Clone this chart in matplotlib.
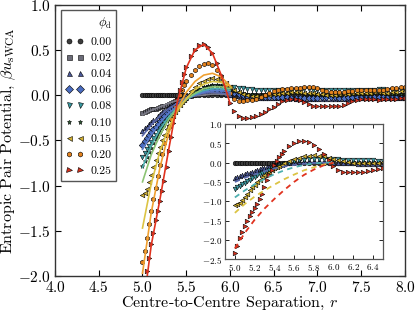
import numpy as np
import matplotlib
matplotlib.use("Agg")
import matplotlib.pyplot as plt
from matplotlib.lines import Line2D

plt.rcParams['font.family'] = 'serif'
plt.rcParams['font.serif'] = ['cmr10']
plt.rcParams['mathtext.fontset'] = 'cm'
plt.rcParams['axes.formatter.use_mathtext'] = True
plt.rcParams['axes.unicode_minus'] = True

# separation grid: fine up to 5.5, coarser after
r = np.concatenate([np.arange(5.0, 5.49, 0.025), np.arange(5.5, 8.001, 0.05)])
r_fit = np.arange(5.0, 6.001, 0.1)

phi_labels = ['0.00', '0.02', '0.04', '0.06', '0.08', '0.10', '0.15', '0.20', '0.25']
markers = ['o', 's', '^', 'D', 'v', '*', '<', 'h', '>']
colors = ['#3c3c3c', '#6c6c78', '#4c5a9c', '#4a6cc0', '#3a9aa2', '#2f5c34', '#d4b232', '#e4821e', '#d8321e']
fit_colors = ['#3c3c3c', '#7c7c88', '#5a68aa', '#5a7ccc', '#4fb0b0', '#8cc474', '#dcc444', '#f0a030', '#e0321e']

u_000 = [0.0] * 71
u_002 = [-0.2, -0.19, -0.18, -0.17, -0.16, -0.155, -0.15, -0.14, -0.13, -0.125,
         -0.12, -0.11, -0.1, -0.09, -0.08, -0.07, -0.06, -0.05, -0.04, -0.035,
         -0.03, -0.01, 0.0, 0.01, 0.01, 0.02, 0.02, 0.02, 0.01, 0.01,
         0.0, 0.0, -0.01, -0.01, -0.01, -0.01, 0.0, 0.0, 0.0, 0.0,
         0.0, 0.0, 0.0, 0.0, 0.01, 0.01, 0.0, 0.0, 0.0, 0.0,
         0.0, -0.01, -0.01, 0.0, 0.0, 0.0, 0.0, 0.0, 0.0, 0.0,
         0.0, 0.0, 0.0, 0.0, 0.0, 0.0, 0.0, 0.0, 0.0, 0.0, 0.0]
u_004 = [-0.4, -0.37, -0.35, -0.32, -0.3, -0.28, -0.26, -0.23, -0.21, -0.19,
         -0.17, -0.15, -0.13, -0.11, -0.1, -0.08, -0.07, -0.05, -0.04, -0.03,
         -0.02, 0.0, 0.01, 0.02, 0.03, 0.03, 0.03, 0.03, 0.02, 0.01,
         0.0, -0.01, -0.01, -0.02, -0.02, -0.03, -0.03, -0.03, -0.03, -0.03,
         -0.03, -0.03, -0.03, -0.03, -0.03, -0.04, -0.04, -0.04, -0.04, -0.04,
         -0.04, -0.04, -0.04, -0.04, -0.04, -0.04, -0.04, -0.04, -0.03, -0.03,
         -0.03, -0.03, -0.03, -0.03, -0.03, -0.03, -0.03, -0.03, -0.03, -0.03, -0.03]
u_006 = [-0.55, -0.51, -0.48, -0.44, -0.41, -0.38, -0.35, -0.32, -0.29, -0.26,
         -0.23, -0.2, -0.18, -0.15, -0.13, -0.11, -0.09, -0.07, -0.05, -0.04,
         -0.02, 0.0, 0.02, 0.04, 0.05, 0.06, 0.06, 0.06, 0.05, 0.04,
         0.03, 0.02, 0.01, 0.0, -0.01, -0.01, -0.02, -0.02, -0.02, -0.02,
         -0.02, -0.02, -0.02, -0.02, -0.03, -0.03, -0.03, -0.03, -0.03, -0.03,
         -0.03, -0.02, -0.02, -0.02, -0.02, -0.03, -0.03, -0.02, -0.02, -0.02,
         -0.02, -0.02, -0.02, -0.02, -0.02, -0.02, -0.02, -0.02, -0.02, -0.02, -0.02]
u_008 = [-0.68, -0.64, -0.6, -0.56, -0.52, -0.48, -0.44, -0.4, -0.37, -0.33,
         -0.3, -0.27, -0.24, -0.21, -0.18, -0.15, -0.13, -0.1, -0.08, -0.06,
         -0.04, 0.0, 0.03, 0.06, 0.08, 0.09, 0.1, 0.1, 0.1, 0.1,
         0.09, 0.09, 0.08, 0.08, 0.07, 0.07, 0.06, 0.06, 0.06, 0.05,
         0.05, 0.05, 0.05, 0.06, 0.06, 0.06, 0.07, 0.07, 0.07, 0.06,
         0.06, 0.06, 0.06, 0.05, 0.05, 0.05, 0.06, 0.06, 0.06, 0.06,
         0.06, 0.06, 0.06, 0.06, 0.07, 0.07, 0.06, 0.06, 0.06, 0.06, 0.06]
u_010 = [-0.78, -0.73, -0.68, -0.63, -0.58, -0.53, -0.49, -0.45, -0.41, -0.37,
         -0.33, -0.29, -0.26, -0.22, -0.19, -0.16, -0.13, -0.1, -0.08, -0.05,
         -0.03, 0.01, 0.04, 0.07, 0.09, 0.1, 0.11, 0.11, 0.1, 0.08,
         0.06, 0.04, 0.03, 0.02, 0.01, 0.01, 0.0, 0.0, 0.0, 0.01,
         0.01, 0.01, 0.02, 0.02, 0.02, 0.02, 0.02, 0.01, 0.01, 0.01,
         0.01, 0.0, 0.0, 0.0, 0.0, 0.0, 0.01, 0.01, 0.01, 0.01,
         0.01, 0.01, 0.01, 0.02, 0.02, 0.02, 0.01, 0.01, 0.01, 0.01, 0.01]
u_015 = [-1.1, -1.08, -1.04, -0.96, -0.88, -0.8, -0.72, -0.64, -0.57, -0.5,
         -0.44, -0.38, -0.33, -0.28, -0.23, -0.19, -0.15, -0.11, -0.08, -0.05,
         -0.02, 0.04, 0.09, 0.13, 0.16, 0.18, 0.19, 0.18, 0.16, 0.13,
         0.09, 0.06, 0.03, 0.01, 0.0, -0.01, -0.01, -0.01, 0.0, 0.0,
         0.01, 0.01, 0.02, 0.02, 0.03, 0.03, 0.03, 0.02, 0.02, 0.02,
         0.01, 0.01, 0.0, 0.0, 0.0, 0.01, 0.01, 0.01, 0.02, 0.02,
         0.02, 0.02, 0.02, 0.03, 0.03, 0.02, 0.02, 0.03, 0.03, 0.04, 0.04]
u_020 = [-1.85, -1.72, -1.58, -1.43, -1.28, -1.15, -1.03, -0.9, -0.77, -0.65,
         -0.53, -0.44, -0.35, -0.27, -0.2, -0.13, -0.06, 0.0, 0.06, 0.11,
         0.15, 0.22, 0.28, 0.32, 0.34, 0.35, 0.33, 0.28, 0.2, 0.11,
         0.02, -0.04, -0.07, -0.07, -0.06, -0.05, -0.04, -0.02, 0.0, 0.02,
         0.04, 0.06, 0.07, 0.07, 0.08, 0.08, 0.08, 0.09, 0.09, 0.09,
         0.08, 0.06, 0.04, 0.03, 0.03, 0.03, 0.03, 0.04, 0.04, 0.05,
         0.05, 0.05, 0.06, 0.06, 0.06, 0.06, 0.07, 0.08, 0.08, 0.09, 0.09]
u_025 = [-2.35, -2.15, -1.95, -1.8, -1.65, -1.52, -1.38, -1.28, -1.17, -1.06,
         -0.95, -0.8, -0.62, -0.46, -0.31, -0.18, -0.06, 0.05, 0.14, 0.23,
         0.31, 0.43, 0.5, 0.55, 0.56, 0.53, 0.46, 0.35, 0.22, 0.06,
         -0.09, -0.18, -0.23, -0.25, -0.25, -0.24, -0.23, -0.21, -0.19, -0.16,
         -0.13, -0.1, -0.07, -0.05, -0.04, -0.04, -0.05, -0.08, -0.1, -0.12,
         -0.12, -0.12, -0.12, -0.12, -0.12, -0.12, -0.11, -0.09, -0.07, -0.05,
         -0.04, -0.04, -0.04, -0.04, -0.05, -0.04, -0.04, -0.04, -0.04, -0.03, -0.03]
series = [u_000, u_002, u_004, u_006, u_008, u_010, u_015, u_020, u_025]

# smooth fits (solid in main panel)
fit_002 = [-0.22, -0.17, -0.13, -0.09, -0.06, -0.03, -0.01, 0.0, 0.01, 0.01, 0.0]
fit_004 = [-0.45, -0.33, -0.23, -0.15, -0.09, -0.04, 0.0, 0.02, 0.03, 0.02, 0.01]
fit_006 = [-0.6, -0.44, -0.31, -0.2, -0.12, -0.05, 0.0, 0.03, 0.05, 0.05, 0.03]
fit_008 = [-0.8, -0.56, -0.38, -0.24, -0.13, -0.05, 0.01, 0.05, 0.07, 0.07, 0.05]
fit_010 = [-0.96, -0.66, -0.44, -0.27, -0.14, -0.05, 0.02, 0.07, 0.09, 0.09, 0.07]
fit_015 = [-1.47, -0.98, -0.62, -0.36, -0.17, -0.04, 0.06, 0.12, 0.15, 0.14, 0.1]
fit_020 = [-1.97, -1.3, -0.8, -0.42, -0.15, 0.03, 0.15, 0.22, 0.24, 0.2, 0.1]
fit_025 = [-2.4, -1.66, -1.15, -0.6, -0.07, 0.3, 0.5, 0.56, 0.46, 0.22, -0.09]
fits = [None, fit_002, fit_004, fit_006, fit_008, fit_010, fit_015, fit_020, fit_025]

# dashed curves in the inset
dash_004 = [-0.5, -0.39, -0.3, -0.22, -0.15, -0.1, -0.06, -0.03, -0.01, 0.0, 0.0]
dash_008 = [-0.9, -0.72, -0.56, -0.42, -0.3, -0.2, -0.12, -0.06, -0.02, 0.0, 0.0]
dash_015 = [-1.3, -1.07, -0.88, -0.72, -0.57, -0.43, -0.31, -0.2, -0.12, -0.05, -0.01]
dash_025 = [-2.22, -1.82, -1.48, -1.19, -0.94, -0.71, -0.5, -0.32, -0.18, -0.07, 0.0]
inset_idx = [0, 2, 4, 6, 8]
dashes = {2: dash_004, 4: dash_008, 6: dash_015, 8: dash_025}

fig = plt.figure(figsize=(4.15, 3.11), dpi=100)
ax = fig.add_axes([0.1325, 0.1125, 0.8434, 0.873])

ms = 3.3
for i, u in enumerate(series):
    ax.plot(r, u, ls='none', marker=markers[i], ms=ms, mfc=colors[i], mec='k', mew=0.4, zorder=2 + i * 0.01)
for i, f in enumerate(fits):
    if f is not None:
        ax.plot(r_fit, f, '-', color=fit_colors[i], lw=1.2, zorder=3 + i * 0.01)

ax.set_xlim(4.0, 8.0)
ax.set_ylim(-2.0, 1.0)
ax.set_xticks(np.arange(4.0, 8.01, 0.5))
ax.set_yticks(np.arange(-2.0, 1.01, 0.5))
ax.tick_params(direction='in', top=True, right=True, labelsize=11, length=4, width=0.8, pad=3)
for s in ax.spines.values():
    s.set_color('#333333')
    s.set_linewidth(1.0)
ax.set_xlabel('Centre-to-Centre Separation, $r$', fontsize=11.5, labelpad=0)
ax.set_ylabel(r'Entropic Pair Potential, $\beta u_{\rm sWCA}$', fontsize=11.5, labelpad=0)

handles = [Line2D([], [], ls='none', marker=markers[i], ms=3.6, mfc=colors[i], mec='k', mew=0.4)
           for i in range(len(series))]
leg = ax.legend(handles, phi_labels, title=r'$\phi_{\rm d}$', loc='upper left',
                bbox_to_anchor=(0.017, 0.98), borderaxespad=0, numpoints=2,
                fontsize=8.5, title_fontsize=9, handlelength=1.5, handletextpad=0.6,
                labelspacing=0.5, borderpad=0.4, fancybox=False, framealpha=1)
leg._legend_box.align = 'right'
leg.get_frame().set_edgecolor('#555555')
leg.get_frame().set_linewidth(1.0)
leg.set_zorder(10)

# inset
axi = fig.add_axes([0.5422, 0.1663, 0.38, 0.435])
for i in inset_idx:
    axi.plot(r, series[i], ls='none', marker=markers[i], ms=3.3, mfc=colors[i], mec='k', mew=0.4, zorder=2 + i * 0.01)
for i, d in dashes.items():
    axi.plot(r_fit, d, ls=(0, (3, 2.5)), color=fit_colors[i], lw=1.3, zorder=3)
axi.set_xlim(4.9, 6.5)
axi.set_ylim(-2.5, 1.0)
axi.set_xticks(np.arange(5.0, 6.41, 0.2))
axi.set_yticks(np.arange(-2.5, 1.01, 0.5))
axi.tick_params(direction='in', top=True, right=True, labelsize=6.5, length=3, width=0.6, pad=2)
for s in axi.spines.values():
    s.set_color('#555555')
    s.set_linewidth(0.9)

fig.savefig('out.png', dpi=100)
